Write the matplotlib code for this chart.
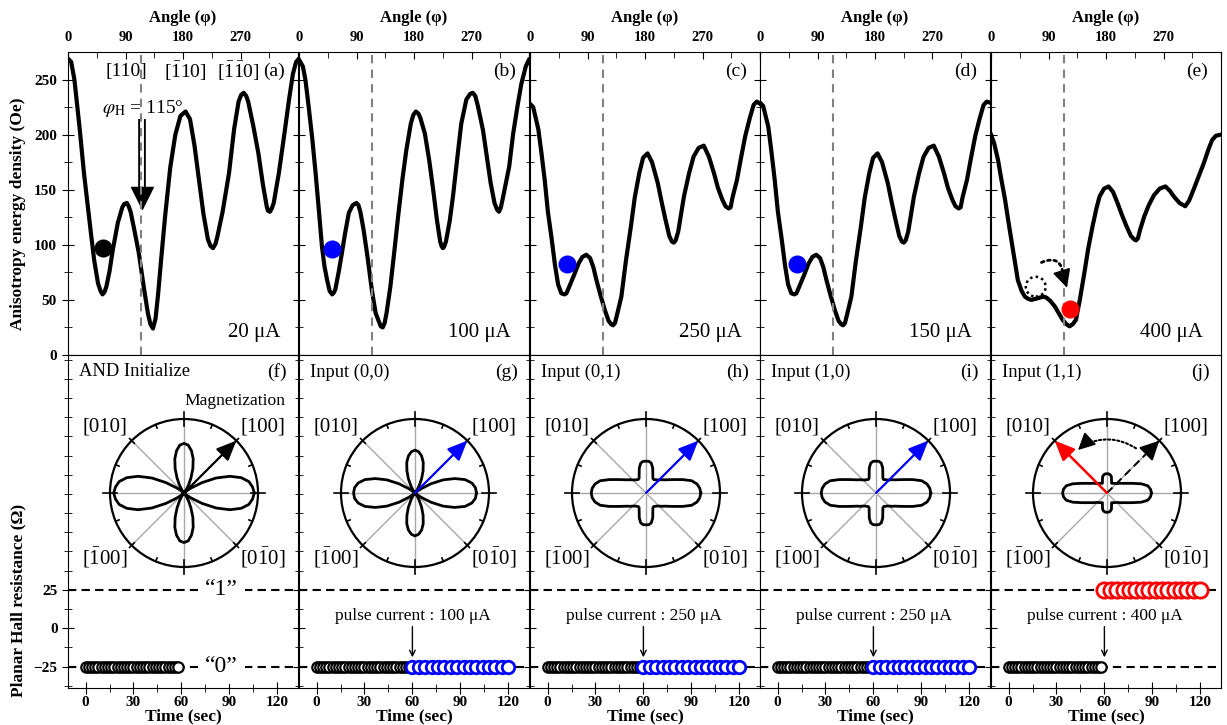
import numpy as np
import matplotlib.pyplot as plt
from matplotlib.patches import Ellipse

plt.rcParams['font.family'] = ['Liberation Serif', 'DejaVu Serif']
plt.rcParams['mathtext.fontset'] = 'stix'

# ---- top row: anisotropy energy density vs angle ----
angle_a = [0, 5, 10, 18, 25, 31, 36, 41, 47, 51, 54, 57, 60, 65, 70, 78, 85, 88, 92, 95, 98, 104,
           111, 118, 125, 129, 133, 137, 141, 146, 152, 160, 168, 176, 184, 191, 198, 205, 212,
           219, 223, 227, 231, 234, 242, 252, 260, 267, 271, 275, 279, 282, 290, 298, 305, 311,
           313, 316, 319, 322, 330, 339, 346, 352, 357, 360]
energy_a = [269, 266, 250, 207, 165, 135, 110, 86, 65, 58, 55, 57, 62, 76, 95, 120, 134, 137, 138, 135, 130, 113,
            92, 64, 38, 28, 24, 33, 55, 88, 126, 170, 200, 217, 221, 214, 190, 159, 128,
            105, 99, 97, 101, 108, 130, 165, 205, 230, 236, 238, 235, 230, 208, 183, 155, 135,
            131, 130, 133, 138, 165, 202, 232, 255, 266, 268]

angle_b = [0, 6, 10, 15, 21, 26, 31, 36, 40, 44, 48, 52, 55, 57, 62, 67, 72, 78, 84, 87, 90, 93, 96,
           101, 107, 114, 120, 126, 128, 131, 134, 137, 143, 149, 155, 162, 168, 175, 179, 183, 187,
           190, 197, 204, 210, 216, 221, 223, 225, 227, 230, 236, 241, 248, 254, 262, 268, 272, 276,
           280, 288, 294, 300, 306, 310, 313, 316, 320, 329, 335, 342, 348, 355, 360]
energy_b = [268, 262, 250, 226, 195, 165, 132, 98, 80, 68, 58, 55, 57, 60, 75, 92, 110, 129, 136, 137, 138, 136, 130,
            114, 90, 59, 38, 29, 26, 25, 29, 38, 62, 93, 125, 160, 186, 210, 218, 221, 219,
            215, 201, 176, 150, 122, 103, 99, 97, 98, 103, 122, 144, 180, 210, 232, 237, 238, 235,
            226, 204, 180, 156, 138, 132, 130, 134, 145, 171, 200, 226, 246, 262, 268]

angle_c = [0, 5, 13, 18, 23, 28, 34, 39, 44, 49, 54, 57, 60, 65, 70, 76, 82, 88, 94, 99, 104,
           110, 117, 123, 127, 130, 133, 136, 143, 150, 158, 164, 171, 177, 184, 191, 200, 206, 212,
           218, 222, 225, 228, 232, 241, 249, 256, 264, 272, 280, 288, 294, 301, 306, 311, 314,
           317, 324, 330, 337, 344, 350, 355, 360]
energy_c = [228, 225, 205, 183, 159, 130, 105, 82, 64, 56, 55, 56, 60, 67, 74, 83, 89, 91, 88, 80, 68,
            55, 41, 31, 28, 27, 29, 36, 53, 85, 117, 143, 165, 179, 183, 175, 156, 139, 123,
            108, 103, 102, 104, 112, 144, 165, 180, 188, 190, 180, 165, 152, 141, 135, 133, 134,
            143, 159, 178, 199, 215, 227, 230, 228]

angle_d = [0, 5, 13, 18, 23, 28, 34, 39, 44, 49, 54, 57, 60, 65, 70, 76, 82, 88, 94, 99, 104,
           110, 117, 123, 127, 130, 133, 136, 143, 150, 158, 164, 171, 177, 184, 191, 200, 206, 212,
           218, 222, 225, 228, 232, 241, 249, 256, 264, 272, 280, 288, 294, 301, 306, 311, 314,
           317, 324, 330, 337, 344, 350, 355, 360]
energy_d = [229, 226, 207, 184, 159, 130, 105, 82, 64, 56, 55, 56, 60, 67, 74, 83, 89, 91, 88, 80, 68,
            55, 41, 31, 28, 27, 29, 36, 53, 85, 117, 143, 165, 179, 183, 175, 156, 139, 123,
            108, 103, 102, 104, 112, 144, 165, 180, 188, 190, 180, 165, 152, 141, 135, 133, 134,
            143, 159, 178, 199, 215, 227, 230, 229]

angle_e = [0, 5, 11, 16, 22, 27, 32, 37, 42, 48, 53, 58, 63, 70, 76, 82, 87, 93, 100, 106,
           112, 118, 123, 128, 133, 139, 146, 152, 159, 165, 170, 177, 184, 191, 198, 205, 212,
           219, 224, 227, 230, 233, 240, 247, 255, 264, 273, 280, 286, 295, 304, 310, 317, 325,
           333, 340, 346, 352, 360]
energy_e = [200, 192, 177, 160, 141, 122, 104, 86, 68, 58, 53, 51, 50, 51, 52, 53, 52, 49, 44, 38,
            32, 28, 26, 28, 32, 50, 74, 96, 117, 133, 144, 151, 153, 148, 138, 127, 117,
            108, 105, 104, 106, 113, 126, 136, 145, 151, 153, 149, 144, 138, 135, 140, 150, 162,
            174, 186, 195, 199, 200]

angles = [angle_a, angle_b, angle_c, angle_d, angle_e]
energies = [energy_a, energy_b, energy_c, energy_d, energy_e]
currents = ['20 μA', '100 μA', '250 μA', '150 μA', '400 μA']
top_tags = ['(a)', '(b)', '(c)', '(d)', '(e)']
state_angle = [54, 52, 58, 58, 123]
state_energy = [97, 96, 83, 83, 42]
state_color = ['black', 'blue', 'blue', 'blue', 'red']
old_state = (70, 62)          # dotted circle in (e)
field_angle = 115

# ---- bottom row: magnetization polar plots + planar Hall resistance ----
lobe_theta = [0, 5, 10, 15, 20, 25, 30, 35, 40, 45, 50, 55, 60, 65, 70, 75, 80, 85, 90]
lobe_f = [0.95, 0.93, 0.89, 0.80, 0.66, 0.48, 0.28, 0.12, 0.04, 0.0,
          0.01, 0.05, 0.12, 0.22, 0.35, 0.48, 0.58, 0.65, 0.67]
lobe_g = [0.83, 0.82, 0.78, 0.70, 0.57, 0.42, 0.25, 0.10, 0.03, 0.0,
          0.01, 0.05, 0.11, 0.21, 0.32, 0.43, 0.51, 0.56, 0.58]
lobe_h = [0.74, 0.73, 0.70, 0.64, 0.53, 0.43, 0.36, 0.31, 0.28, 0.25,
          0.23, 0.22, 0.21, 0.22, 0.27, 0.35, 0.41, 0.43, 0.43]
lobe_i = [0.74, 0.73, 0.70, 0.64, 0.53, 0.43, 0.36, 0.31, 0.28, 0.25,
          0.23, 0.22, 0.21, 0.22, 0.27, 0.35, 0.41, 0.43, 0.43]
lobe_j = [0.60, 0.59, 0.56, 0.48, 0.38, 0.31, 0.26, 0.23, 0.20, 0.18,
          0.17, 0.16, 0.15, 0.145, 0.18, 0.23, 0.25, 0.26, 0.26]
lobes = [lobe_f, lobe_g, lobe_h, lobe_i, lobe_j]
mag_angle = [45, 45, 45, 45, 135]
mag_color = ['black', 'blue', 'blue', 'blue', 'red']

bottom_tags = ['(f)', '(g)', '(h)', '(i)', '(j)']
inputs = ['AND Initialize', 'Input (0,0)', 'Input (0,1)', 'Input (1,0)', 'Input (1,1)']
pulses = [None, 'pulse current : 100 μA', 'pulse current : 250 μA',
          'pulse current : 250 μA', 'pulse current : 400 μA']
time_before = [0, 2, 4, 6, 8, 10, 12, 14, 16, 18, 20, 22, 24, 26, 28,
               30, 32, 34, 36, 38, 40, 42, 44, 46, 48, 50, 52, 54, 56, 58]
time_after = [60, 64, 68, 72, 76, 80, 84, 88, 92, 96, 100, 104, 108, 112, 116, 120]
level_zero = -25
level_one = 25
after_level = [None, level_zero, level_zero, level_zero, level_one]
after_color = [None, 'blue', 'blue', 'blue', 'red']

W, H = 1227, 725
lefts = [68, 299, 530, 760, 991]
pw = 230

fig = plt.figure(figsize=(W / 100, H / 100), dpi=100)


def bold_ticks(ax):
    for t in ax.get_xticklabels() + ax.get_yticklabels():
        t.set_fontweight('bold')


def head(ax, tip, tail, color='k', scale=12):
    ax.annotate('', xy=tip, xytext=tail,
                arrowprops=dict(arrowstyle='-|>,head_length=0.8,head_width=0.4',
                                mutation_scale=scale, lw=1.2, color=color,
                                shrinkA=0, shrinkB=0), zorder=6)


for i in range(5):
    l = lefts[i]
    # ---------------- top panels ----------------
    ax = fig.add_axes([l / W, 1 - 355 / H, pw / W, 303 / H])
    ax.plot(angles[i], energies[i], color='k', lw=3, solid_joinstyle='round', zorder=3)
    ax.axvline(field_angle, color='#808080', ls=(0, (4, 3)), lw=1.5, zorder=4)
    ax.plot(state_angle[i], state_energy[i], 'o', color=state_color[i], ms=13, mec='none', zorder=5)
    ax.set_xlim(0, 360)
    ax.set_ylim(0, 275)
    ax.xaxis.tick_top()
    ax.set_xticks([0, 90, 180, 270, 360])
    ax.set_xticklabels(['0', '90', '180', '270', ''])
    ax.set_xticks([45, 135, 225, 315], minor=True)
    ax.set_yticks([0, 50, 100, 150, 200, 250])
    ax.set_yticks([25, 75, 125, 175, 225], minor=True)
    ax.tick_params(axis='x', which='both', direction='in', top=True, bottom=False,
                   labelsize=10.5, pad=6)
    ax.tick_params(axis='x', which='major', length=5)
    ax.tick_params(axis='x', which='minor', length=4)
    ax.tick_params(axis='y', which='major', direction='inout', length=9, labelsize=11)
    ax.tick_params(axis='y', which='minor', direction='inout', length=6)
    if i > 0:
        ax.set_yticklabels([])
    ax.xaxis.set_label_position('top')
    ax.set_xlabel('Angle (φ)', fontweight='bold', fontsize=12, labelpad=6)
    bold_ticks(ax)
    ax.text(322, 257, top_tags[i], ha='center', va='center', fontsize=14)
    ax.text(332, 20, currents[i], ha='right', va='center', fontsize=15)

    if i == 0:
        ax.text(91, 257, '[110]', ha='center', va='center', fontsize=14)
        ax.text(184, 257, r'[$\mathregular{\bar{1}}$10]', ha='center', va='center', fontsize=14)
        ax.text(267, 257, r'[$\mathregular{\bar{1}\bar{1}}$0]', ha='center', va='center', fontsize=14)
        ax.text(53, 224, r'$\varphi_{\mathrm{H}}$ = 115°', ha='left', va='center', fontsize=14)
        ax.plot([116.5, 116.5], [214, 148], color='k', lw=5.5, solid_capstyle='butt', zorder=3)
        ax.plot([116.5, 116.5], [214, 150], color='w', lw=2.8, solid_capstyle='butt', zorder=3.5)
        ax.annotate('', xy=(116.5, 131), xytext=(116.5, 152),
                    arrowprops=dict(arrowstyle='-|>,head_length=1.3,head_width=0.65',
                                    mutation_scale=12, lw=1, color='k', shrinkA=0, shrinkB=0),
                    zorder=3.6)
    if i == 4:
        ax.add_patch(Ellipse(old_state, 31, 18, fill=False, ec='k', lw=1.8,
                             ls=(0, (1, 1.3)), zorder=5))
        ax.annotate('', xy=(113, 72), xytext=(79, 84),
                    arrowprops=dict(arrowstyle='-', connectionstyle='arc3,rad=-0.7',
                                    ls=(0, (1, 1.3)), lw=2, color='k', shrinkA=0, shrinkB=0),
                    zorder=6)
        head(ax, (119, 61), (113, 72), scale=14)

    # ---------------- bottom panels ----------------
    bx = fig.add_axes([l / W, 1 - 688 / H, pw / W, 333 / H])
    bx.axhline(level_one, color='k', ls=(0, (4, 2.5)), lw=1.5, zorder=1)
    bx.axhline(level_zero, color='k', ls=(0, (4, 2.5)), lw=1.5, zorder=1)
    bx.plot(time_before, np.full(len(time_before), level_zero), 'o', ls='none',
            mfc='white', mec='k', ms=7.5, mew=1.6, zorder=3)
    if after_level[i] is not None:
        ms = 11 if i == 4 else 9
        bx.plot(time_after, np.full(len(time_after), after_level[i]), 'o', ls='none',
                mfc='white', mec=after_color[i], ms=ms, mew=2, zorder=4)
        bx.text(60, 8, pulses[i], ha='center', va='center', fontsize=12.5)
        bx.annotate('', xy=(60, -19), xytext=(60, 1),
                    arrowprops=dict(arrowstyle='->', lw=1, color='k', shrinkA=0, shrinkB=0))
    bx.set_xlim(-11, 133)
    bx.set_ylim(-39, 178)
    bx.set_xticks([0, 30, 60, 90, 120])
    bx.set_xticks([15, 45, 75, 105], minor=True)
    bx.set_yticks([-25, 0, 25])
    bx.set_yticks([-37.5, -12.5, 12.5, 37.5, 50, 62.5, 75, 87.5, 100, 112.5, 125, 137.5,
                   150, 162.5, 175], minor=True)
    bx.tick_params(axis='both', which='both', direction='inout', labelsize=11)
    bx.tick_params(axis='both', which='major', length=8)
    bx.tick_params(axis='both', which='minor', length=6)
    bx.tick_params(axis='x', pad=2)
    if i > 0:
        bx.set_yticklabels([])
    bx.set_xlabel('Time (sec)', fontweight='bold', fontsize=12.5, labelpad=-1)
    bold_ticks(bx)
    bx.text(-4, 167, inputs[i], ha='left', va='center', fontsize=13.3)
    bx.text(126, 167, bottom_tags[i], ha='right', va='center', fontsize=14)
    if i == 0:
        bx.text(125, 148, 'Magnetization', ha='right', va='center', fontsize=12.6)
        bx.text(85, 25, '“1”', ha='center', va='center', fontsize=17,
                bbox=dict(fc='white', ec='none', pad=5))
        bx.text(85, -25, '“0”', ha='center', va='center', fontsize=17,
                bbox=dict(fc='white', ec='none', pad=5))

    # polar inset
    cx, cy, r = l + 116, 493, 74
    px = fig.add_axes([(cx - r) / W, 1 - (cy + r) / H, 2 * r / W, 2 * r / H], projection='polar')
    px.set_ylim(0, 1)
    px.set_xticks([])
    px.set_yticks([])
    px.grid(False)
    px.set_facecolor('none')
    px.spines['polar'].set_linewidth(1.6)
    for deg in range(0, 360, 45):
        px.plot([np.radians(deg)] * 2, [0.03, 1], color='#a8a8a8', lw=1, zorder=1)
    for deg in np.arange(0, 360, 22.5):
        if deg % 90 == 0:
            r0, r1 = 0.9, 1.09
        elif deg % 45 == 0:
            r0, r1 = 0.95, 1.04
        else:
            r0, r1 = 0.95, 1.0
        px.plot([np.radians(deg)] * 2, [r0, r1], color='k', lw=1.2, clip_on=False, zorder=3)
    t = np.array(lobe_theta, dtype=float)
    q = np.array(lobes[i])
    th = np.concatenate([t, 180 - t[::-1], 180 + t, 360 - t[::-1]])
    rr = np.concatenate([q, q[::-1], q, q[::-1]])
    px.plot(np.radians(th), rr, color='k', lw=2, zorder=4)
    if i < 4:
        px.annotate('', xy=(np.radians(45), 1.0), xytext=(0, 0),
                    arrowprops=dict(arrowstyle='-|>,head_length=0.8,head_width=0.35',
                                    mutation_scale=15, lw=1.6, color=mag_color[i],
                                    shrinkA=0, shrinkB=0), zorder=5)
    else:
        px.plot([np.radians(45)] * 2, [0, 0.86], color='k', lw=1.4, ls=(0, (4, 2.5)), zorder=5)
        head(px, (np.radians(45), 1.0), (np.radians(45), 0.86), scale=15)
        px.annotate('', xy=(np.radians(mag_angle[i]), 1.0), xytext=(0, 0),
                    arrowprops=dict(arrowstyle='-|>,head_length=0.8,head_width=0.35',
                                    mutation_scale=15, lw=1.8, color=mag_color[i],
                                    shrinkA=0, shrinkB=0), zorder=5)
        px.annotate('', xy=(np.radians(117), 0.72), xytext=(np.radians(57), 0.72),
                    arrowprops=dict(arrowstyle='-', connectionstyle='arc3,rad=0.28',
                                    ls=(0, (1, 1.2)), lw=1.5, color='k',
                                    shrinkA=0, shrinkB=0), zorder=5)
        head(px, (np.radians(124), 0.70), (np.radians(117), 0.72), scale=13)

    lab_kw = dict(ha='center', va='center', fontsize=15)
    fig.text((cx - 79) / W, 1 - 427 / H, '[010]', **lab_kw)
    fig.text((cx + 79) / W, 1 - 427 / H, '[100]', **lab_kw)
    fig.text((cx - 79) / W, 1 - 558 / H, r'[$\mathregular{\bar{1}}$00]', **lab_kw)
    fig.text((cx + 79) / W, 1 - 558 / H, r'[0$\mathregular{\bar{1}}$0]', **lab_kw)

fig.text(18 / W, 1 - 214 / H, 'Anisotropy energy density (Oe)', rotation=90,
         ha='center', va='center', fontweight='bold', fontsize=12.5)
fig.text(18 / W, 1 - 600 / H, 'Planar Hall resistance (Ω)', rotation=90,
         ha='center', va='center', fontweight='bold', fontsize=12.5)

fig.savefig('out.png', dpi=100)
